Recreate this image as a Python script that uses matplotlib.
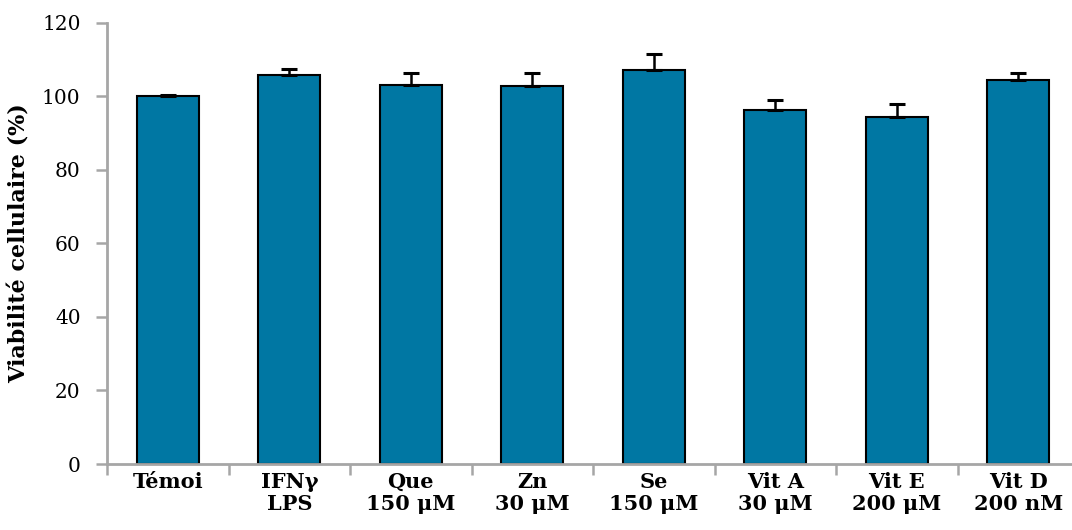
# Cell viability bar chart with upward error bars

import matplotlib.pyplot as plt
import numpy as np

plt.rcParams['font.family'] = ['DejaVu Serif']

# Data
labels = ["Témoi", "IFNγ\nLPS", "Que\n150 μM", "Zn\n30 μM", "Se\n150 μM",
          "Vit A\n30 μM", "Vit E\n200 μM", "Vit D\n200 nM"]
viability = [100.0, 105.7, 103.0, 102.7, 107.1, 96.3, 94.4, 104.5]
errors = [0.2, 1.6, 3.2, 3.7, 4.3, 2.6, 3.5, 1.7]

bar_color = "#0077A3"
axis_color = "#A6A6A6"

fig = plt.figure(figsize=(10.72, 5.30), dpi=100)
ax = fig.add_axes([107 / 1072, 66 / 530, 972 / 1072, 441.5 / 530])

x = np.arange(len(labels))
ax.bar(x, viability, width=0.51, color=bar_color, edgecolor="black", linewidth=1.5,
       zorder=2)
ax.errorbar(x, viability, yerr=[np.zeros(len(errors)), errors], fmt="none",
            ecolor="black", elinewidth=1.8, capsize=6, capthick=2.2, zorder=3)

ax.set_xlim(-0.5, len(labels) - 0.5)
ax.set_ylim(0, 120)
ax.set_yticks(np.arange(0, 121, 20))

# Tick marks sit between the categories, labels at the centres
ax.set_xticks(np.arange(-0.5, len(labels), 1.0))
ax.set_xticklabels([])
ax.set_xticks(x, minor=True)
ax.set_xticklabels(labels, minor=True, fontsize=15, fontweight="bold",
                   linespacing=1.1)
ax.tick_params(axis="x", which="major", direction="out", length=8, width=1.8,
               color=axis_color)
ax.tick_params(axis="x", which="minor", length=0, pad=6)
ax.tick_params(axis="y", direction="out", length=8, width=1.8, color=axis_color,
               labelsize=14.5, pad=11)

for side in ["top", "right"]:
    ax.spines[side].set_visible(False)
for side in ["left", "bottom"]:
    ax.spines[side].set_color(axis_color)
    ax.spines[side].set_linewidth(2)

ax.set_ylabel("Viabilité cellulaire (%)", fontsize=16, fontweight="bold", labelpad=8)

fig.savefig("out.png", dpi=100)
